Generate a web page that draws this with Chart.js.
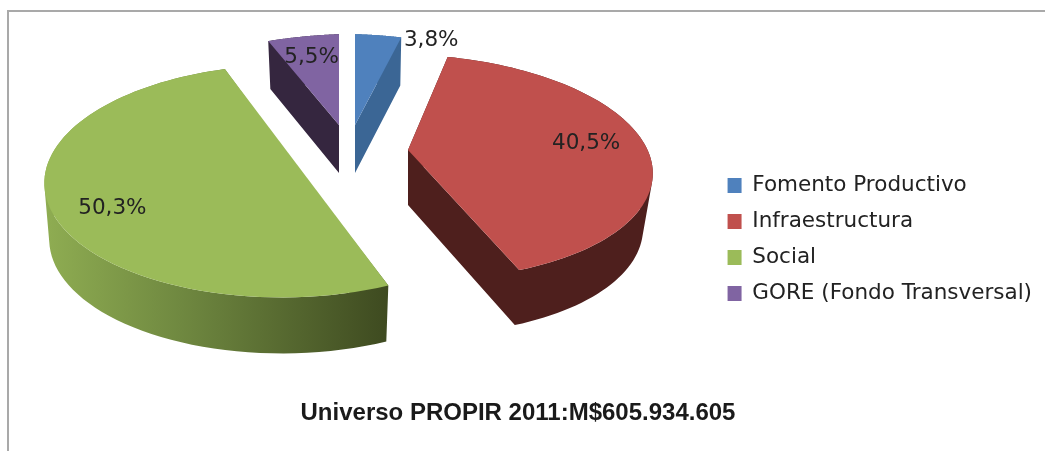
<!DOCTYPE html>
<html>
<head>
<meta charset="utf-8">
<title>Universo PROPIR 2011</title>
<script src="https://cdn.jsdelivr.net/npm/chart.js@4/dist/chart.umd.min.js"></script>
<style>
    html, body { width: 1045px; height: 451px; overflow: hidden; }
    body { margin: 0; background: #fff; }
    #frame { position: absolute; left: 7px; top: 10px; width: 1045px; height: 450px; border-top: 2px solid #a9a9a9; border-left: 2px solid #a9a9a9; }
    #pie { position: absolute; left: 0; top: 0; }
</style>
</head>
<body>
<div id="frame"></div>
<canvas id="pie" width="1042" height="451"></canvas>
<script>
const categories = ['Fomento Productivo', 'Infraestructura', 'Social', 'GORE (Fondo Transversal)'];
const shares = [3.8, 40.5, 50.3, 5.5];
const shareLabels = ['3,8%', '40,5%', '50,3%', '5,5%'];
const topColors = ['#4f81bd', '#c0504d', '#9bbb59', '#8064a2'];
const wallColors = ['#3b6695', '#4e1f1d', null, '#35263f'];
const chartTitle = 'Universo PROPIR 2011:M$605.934.605';

// each exploded slice gets its own perspective view, the old Excel 3D pie is not a clean ellipse
const sliceViews = [
    { x: 355, y: 125, a: 240, b: 6, c: 0, d: 112, tilt: 0.233, depth: 48, shrink: 0.02, nudge: [59, -18] },
    { x: 408, y: 150, a: 240, b: 1, c: 11.6, d: 110, tilt: 0.15, depth: 55, shrink: 0.04, nudge: [12, -3] },
    { x: 287, y: 154, a: 235, b: 0, c: -4, d: 110, tilt: 0.233, depth: 56, shrink: 0.02, nudge: [-10, 26] },
    { x: 339, y: 125, a: 255, b: -9, c: 0, d: 112, tilt: 0.233, depth: 48, shrink: 0.03, nudge: [-1, -2] }
];

function project(view, angle, r) {
    const ux = Math.cos(angle) * r;
    const uy = Math.sin(angle) * r;
    const w = 1 - view.tilt * uy;
    return [view.x + (view.a * ux + view.c * uy) / w, view.y + (view.b * ux + view.d * uy) / w];
}

function outline(arc, view) {
    const pts = [];
    for (let i = 0; i <= 80; i++) {
        pts.push(project(view, arc.startAngle + (arc.endAngle - arc.startAngle) * i / 80, 1));
    }
    return pts;
}

// add one wall quad to the current path, always with the same winding so the union fills without seams
function addQuad(ctx, quad) {
    let area = 0;
    quad.forEach((p, k) => {
        const n = quad[(k + 1) % 4];
        area += p[0] * n[1] - n[0] * p[1];
    });
    const q = area < 0 ? [...quad].reverse() : quad;
    ctx.moveTo(q[0][0], q[0][1]);
    ctx.lineTo(q[1][0], q[1][1]);
    ctx.lineTo(q[2][0], q[2][1]);
    ctx.lineTo(q[3][0], q[3][1]);
    ctx.closePath();
}

function drawSlice(ctx, arc, i) {
    const view = sliceViews[i];
    const pts = outline(arc, view);
    const apex = [view.x, view.y];
    const ring = [apex, ...pts, apex];
    const lower = p => [p[0] - view.shrink * (p[0] - view.x), p[1] + view.depth];

    let wall = wallColors[i];
    if (!wall) {
        const xs = pts.map(p => p[0]);
        wall = ctx.createLinearGradient(Math.min(...xs), 0, Math.max(...xs), 0);
        wall.addColorStop(0, '#8fad52');
        wall.addColorStop(0.4, '#6f8840');
        wall.addColorStop(1, '#3e4a20');
    }
    ctx.beginPath();
    for (let k = 0; k < ring.length - 1; k++) {
        addQuad(ctx, [ring[k], ring[k + 1], lower(ring[k + 1]), lower(ring[k])]);
    }
    ctx.fillStyle = wall;
    ctx.fill('nonzero');

    // a slice just over half a turn closes straight across, no notch at the apex
    ctx.beginPath();
    if (arc.endAngle - arc.startAngle <= Math.PI) ctx.moveTo(apex[0], apex[1]);
    pts.forEach(p => ctx.lineTo(p[0], p[1]));
    ctx.closePath();
    ctx.fillStyle = topColors[i];
    ctx.fill();
}

const pie3d = {
    id: 'pie3d',
    beforeDatasetDraw(chart, args) {
        const ctx = chart.ctx;
        const arcs = args.meta.data;
        ctx.save();
        arcs.forEach((arc, i) => drawSlice(ctx, arc, i));

        ctx.font = '21.5px "DejaVu Sans"';
        ctx.fillStyle = '#222';
        ctx.textAlign = 'center';
        ctx.textBaseline = 'middle';
        arcs.forEach((arc, i) => {
            const view = sliceViews[i];
            const p = project(view, (arc.startAngle + arc.endAngle) / 2, 0.7);
            ctx.fillText(shareLabels[i], p[0] + view.nudge[0], p[1] + view.nudge[1]);
        });
        ctx.restore();
        return false;
    }
};

new Chart(document.getElementById('pie'), {
    type: 'pie',
    data: {
        labels: categories,
        datasets: [{ data: shares, backgroundColor: topColors, borderWidth: 0 }]
    },
    options: {
        responsive: false,
        animation: false,
        layout: { padding: { top: 28, left: -6, right: 0, bottom: 0 } },
        plugins: {
            tooltip: { enabled: false },
            legend: {
                position: 'right',
                labels: {
                    boxWidth: 14,
                    boxHeight: 15,
                    padding: 14.5,
                    color: '#222',
                    font: { family: '"DejaVu Sans"', size: 21.5 }
                }
            },
            title: {
                display: true,
                text: chartTitle,
                position: 'bottom',
                color: '#1a1a1a',
                font: { family: '"Liberation Sans"', size: 24, weight: 'bold' },
                padding: { top: 10, bottom: 23 }
            }
        }
    },
    plugins: [pie3d]
});
</script>
</body>
</html>
